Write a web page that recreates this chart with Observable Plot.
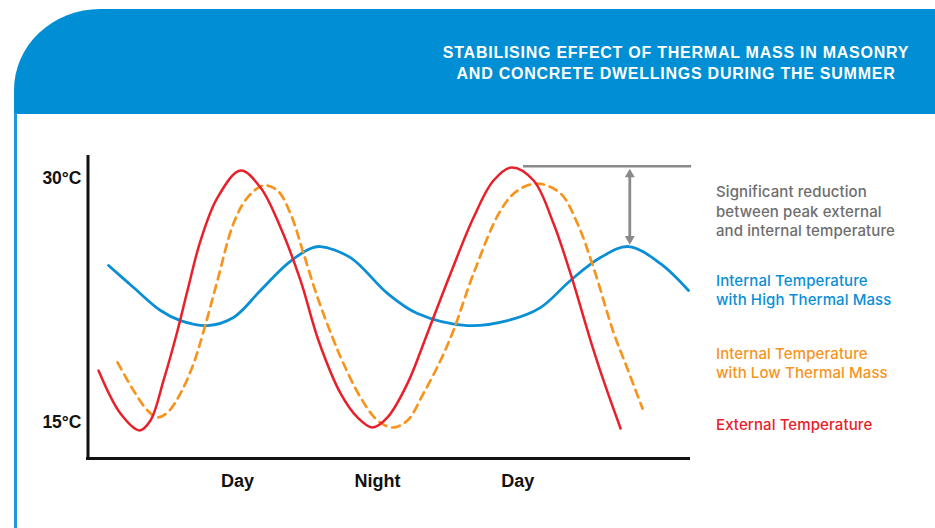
<!DOCTYPE html>
<html>
<head>
<meta charset="utf-8">
<script src="https://cdn.jsdelivr.net/npm/d3@7"></script>
<script src="https://cdn.jsdelivr.net/npm/@observablehq/plot@0.6"></script>
<style>
  html, body { margin: 0; padding: 0; background: #fff; }
  #wrap { position: relative; width: 935px; height: 528px; overflow: hidden; }
  #header { position: absolute; left: 14px; top: 9px; width: 921px; height: 104.5px; background: #008fd5; border-top-left-radius: 86px 81px; }
  #edge { position: absolute; left: 14px; top: 113px; width: 3px; height: 415px; background: #1e9ad9; }
  #title { position: absolute; left: 417px; width: 518px; top: 41.7px; text-align: center; color: #fff;
           font: bold 16px "Liberation Sans", Arial, sans-serif; line-height: 21px; letter-spacing: 0.75px; white-space: nowrap; }
  #chart { position: absolute; left: 0; top: 0; }
  .leg { position: absolute; left: 716px; font-family: Inter, "Liberation Sans", Arial, sans-serif; font-weight: 500; font-size: 15px; letter-spacing: 0.1px; white-space: nowrap; }
</style>
</head>
<body>
<div id="wrap">
  <div id="header"></div>
  <div id="edge"></div>
  <div id="title"></div>
  <div id="chart"></div>
  <div id="legend"></div>
</div>
<script>
// ---- data (hours of the two-day cycle, temperature in °C) ----
const externalHours = [0.10, 1.98, 3.61, 4.55, 5.67, 6.87, 7.72, 8.84, 10.29, 12.26, 13.97, 15.69, 17.40, 18.94, 20.83, 22.28, 23.57, 24.85, 26.56, 28.36, 30.25, 32.22, 33.93, 35.47, 37.36, 39.07, 40.52, 42.24, 43.35, 44.81];
const externalTemps = [18.17, 15.52, 14.48, 15.09, 17.56, 20.64, 23.10, 26.18, 28.83, 30.49, 29.45, 26.98, 23.72, 20.02, 16.76, 15.28, 14.66, 15.28, 17.37, 20.64, 24.15, 27.60, 29.88, 30.68, 29.88, 27.23, 24.15, 20.02, 17.56, 14.60];

const lowMassHours = [1.73, 3.10, 4.30, 5.15, 6.01, 7.12, 8.24, 9.09, 10.29, 11.66, 12.86, 14.23, 15.43, 16.54, 17.66, 18.86, 20.14, 21.08, 22.54, 24.00, 25.28, 26.56, 27.93, 29.39, 30.50, 32.22, 34.53, 35.98, 37.70, 39.67, 41.12, 42.49, 44.21, 45.23, 46.69];
const lowMassTemps = [18.67, 16.94, 15.71, 15.28, 15.59, 16.76, 18.60, 20.57, 23.72, 27.23, 28.83, 29.57, 29.26, 27.84, 25.38, 22.67, 20.21, 18.60, 16.51, 15.09, 14.66, 15.09, 16.76, 18.79, 20.64, 24.15, 28.03, 29.26, 29.69, 29.08, 27.23, 24.52, 20.51, 18.60, 15.83];

const highMassHours = [0.96, 3.10, 5.41, 7.12, 9.43, 11.66, 13.97, 16.29, 18.26, 19.11, 21.68, 24.85, 27.42, 31.70, 35.13, 37.95, 40.52, 43.09, 45.49, 48.23, 50.63];
const highMassTemps = [24.64, 23.29, 21.87, 21.25, 20.94, 21.44, 23.10, 24.76, 25.69, 25.81, 25.13, 22.92, 21.68, 20.94, 21.25, 22.05, 23.72, 25.13, 25.81, 24.76, 23.10];

const yTicks = [15, 30];
const xTicks = [12, 24, 36];
const xTickLabels = ["Day", "Night", "Day"];

// annotation: peak external vs peak internal (high mass)
const peakExternal = 30.76;
const peakInternal = 25.81;
const annotationStart = 36.5;
const annotationEnd = 50.9;
const arrowHour = 45.6;

const titleLines = ["STABILISING EFFECT OF THERMAL MASS IN MASONRY", "AND CONCRETE DWELLINGS DURING THE SUMMER"];
const noteLines = ["Significant reduction", "between peak external", "and internal temperature"];
const highLabel = ["Internal Temperature", "with High Thermal Mass"];
const lowLabel = ["Internal Temperature", "with Low Thermal Mass"];
const extLabel = ["External Temperature"];

const BLUE = "#0a8fd6", ORANGE = "#f7941d", RED = "#e8202a", GRAY = "#8a8a8a", INK = "#111";

const toRows = (hs, ts) => hs.map((h, i) => ({hour: h, temp: ts[i]}));
const external = toRows(externalHours, externalTemps);
const lowMass = toRows(lowMassHours, lowMassTemps);
const highMass = toRows(highMassHours, highMassTemps);

const xDomain = [-0.8, 50.8];
const yDomain = [12.75, 31.42];

const plot = Plot.plot({
  width: 935,
  height: 528,
  marginLeft: 87.5,
  marginRight: 245,
  marginTop: 155,
  marginBottom: 70,
  x: {domain: xDomain},
  y: {domain: yDomain},
  style: {background: "transparent", fontFamily: "'Liberation Sans', Arial, sans-serif", overflow: "visible"},
  marks: [
    Plot.line(highMass, {x: "hour", y: "temp", stroke: BLUE, strokeWidth: 2.8, curve: "catmull-rom"}),
    Plot.line(lowMass, {x: "hour", y: "temp", stroke: ORANGE, strokeWidth: 2.7, strokeDasharray: "8,6", curve: "catmull-rom"}),
    Plot.line(external, {x: "hour", y: "temp", stroke: RED, strokeWidth: 2.5, curve: "catmull-rom"}),
    Plot.ruleY([peakExternal], {x1: annotationStart, x2: annotationEnd, stroke: GRAY, strokeWidth: 2.6}),
    Plot.ruleX([arrowHour], {y1: peakExternal, y2: peakInternal, insetTop: 8, insetBottom: 7, stroke: GRAY, strokeWidth: 2.8}),
    Plot.dot([arrowHour], {x: d => d, y: peakExternal, symbol: "triangle", r: 3.7, fill: GRAY, stroke: "none", dy: 8.2}),
    Plot.dot([arrowHour], {x: d => d, y: peakInternal, symbol: "triangle", r: 3.7, fill: GRAY, stroke: "none", rotate: 180, dy: -7.6}),
    Plot.ruleX([xDomain[0]], {stroke: INK, strokeWidth: 3, insetBottom: -1.5}),
    Plot.ruleY([yDomain[0]], {stroke: INK, strokeWidth: 3, insetLeft: -1.5}),
    Plot.axisY(yTicks, {tickSize: 0, tickPadding: 6.5, tickFormat: d => d + "°C", fontSize: 17.5, fontWeight: "bold", fill: INK, label: null}),
    Plot.axisX(xTicks, {tickSize: 0, tickPadding: 16, tickFormat: d => xTickLabels[xTicks.indexOf(d)], fontSize: 18, fontWeight: "bold", fill: INK, label: null})
  ]
});
document.getElementById("chart").appendChild(plot);

// title
const title = document.getElementById("title");
title.innerHTML = titleLines.map(s => `<div>${s}</div>`).join("");

// legend / annotation text
function block(lines, color, top, lh) {
  const d = document.createElement("div");
  d.className = "leg";
  d.style.top = top + "px";
  d.style.color = color;
  d.style.lineHeight = lh + "px";
  d.innerHTML = lines.map(s => `<div>${s}</div>`).join("");
  document.getElementById("legend").appendChild(d);
}
block(noteLines, "#6e6e6e", 182.1, 19.6);
block(highLabel, BLUE, 272, 18.5);
block(lowLabel, ORANGE, 345.3, 18.5);
block(extLabel, RED, 416, 18.5);
</script>
</body>
</html>
